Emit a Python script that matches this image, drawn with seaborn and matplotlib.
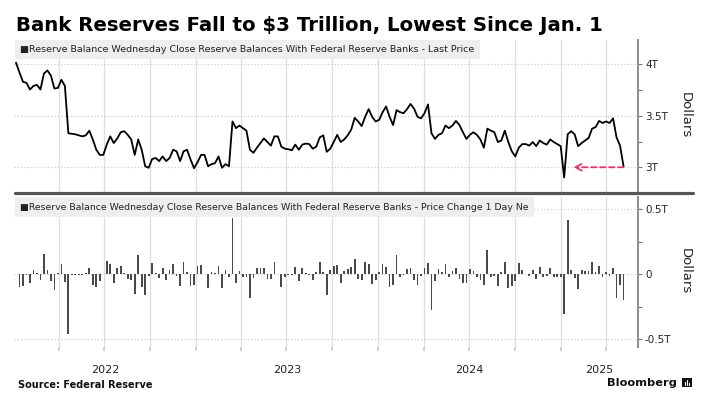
import numpy as np
import pandas as pd
import seaborn as sns
import matplotlib.pyplot as plt
import matplotlib.dates as mdates
from matplotlib.lines import Line2D
from matplotlib.patches import Rectangle

# Weekly reserve balances with Federal Reserve Banks, trillions of dollars (Wednesday close)
first_week = "2022-01-05"
reserves = [
    4.016, 3.92, 3.83, 3.82, 3.755, 3.79, 3.80, 3.755, 3.91, 3.94,
    3.89, 3.765, 3.77, 3.85, 3.79, 3.33, 3.325, 3.32, 3.31, 3.30,
    3.31, 3.355, 3.27, 3.17, 3.12, 3.12, 3.22, 3.30, 3.235, 3.28,
    3.34, 3.35, 3.315, 3.27, 3.12, 3.27, 3.17, 3.01, 2.995, 3.08,
    3.09, 3.06, 3.105, 3.06, 3.09,
    3.17, 3.155, 3.06, 3.155, 3.17, 3.075, 2.99, 3.05, 3.12, 3.12,
    3.01, 3.03, 3.04, 3.105, 2.995, 3.03, 3.01, 3.445, 3.38, 3.405,
    3.38, 3.355, 3.17, 3.14, 3.19, 3.235, 3.28, 3.245, 3.21, 3.30,
    3.30, 3.20, 3.18, 3.175, 3.165, 3.22, 3.17, 3.22, 3.23, 3.225,
    3.18, 3.20, 3.29, 3.31,
    3.15, 3.18, 3.245, 3.315, 3.245, 3.27, 3.31, 3.365, 3.48, 3.445,
    3.40, 3.49, 3.565, 3.49, 3.445, 3.46, 3.535, 3.59, 3.49, 3.41,
    3.555, 3.535, 3.525, 3.565, 3.615, 3.57, 3.49, 3.475, 3.525, 3.61,
    3.33, 3.275, 3.315, 3.33, 3.405, 3.38, 3.405, 3.45, 3.41, 3.34,
    3.275, 3.315, 3.34, 3.315, 3.27,
    3.19, 3.375, 3.355, 3.34, 3.245, 3.26, 3.355, 3.245, 3.155, 3.105,
    3.19, 3.225, 3.225, 3.21, 3.245, 3.205, 3.26, 3.235, 3.22, 3.27,
    3.245, 3.225, 3.205, 2.90, 3.32, 3.35, 3.32, 3.205, 3.235, 3.26,
    3.285, 3.375, 3.39, 3.45, 3.43, 3.445, 3.43, 3.475, 3.29, 3.21,
    3.01,
]

level_ticks = [3.0, 3.5, 4.0]
level_labels = ["3T", "3.5T", "4T"]
change_ticks = [-0.5, 0.0, 0.5]
change_labels = ["-0.5T", "0", "0.5T"]
years = ["2022", "2023", "2024", "2025"]

title = "Bank Reserves Fall to $3 Trillion, Lowest Since Jan. 1"
top_legend = "\u25a0Reserve Balance Wednesday Close Reserve Balances With Federal Reserve Banks - Last Price"
bot_legend = "\u25a0Reserve Balance Wednesday Close Reserve Balances With Federal Reserve Banks - Price Change 1 Day Ne"

# Build the frames
dates = pd.date_range(first_week, periods=len(reserves), freq="7D")
df = pd.DataFrame({"date": mdates.date2num(dates), "reserves": reserves})
chg = pd.DataFrame({"date": df["date"].iloc[1:].values, "change": np.diff(reserves)})

x_start = mdates.date2num(pd.Timestamp("2022-01-01"))
x_end = mdates.date2num(pd.Timestamp("2025-06-05"))
quarters = mdates.date2num(pd.date_range("2022-01-01", "2025-04-01", freq="QS"))
year_starts = [mdates.date2num(pd.Timestamp(y + "-01-01")) for y in years] + [x_end]
year_centers = [(a + b) / 2 for a, b in zip(year_starts[:-1], year_starts[1:])]
arrow_tip = mdates.date2num(pd.Timestamp("2025-01-26"))

sns.set_theme(style="white")
plt.rcParams['font.family'] = ['DejaVu Sans']

W, H = 719, 399
fig = plt.figure(figsize=(W / 100, H / 100), dpi=100)
ax_top = fig.add_axes([14 / W, 1 - 193 / H, 624 / W, 153 / H])
ax_bot = fig.add_axes([14 / W, 1 - 347 / H, 624 / W, 150 / H], sharex=ax_top)

# Quarter grid lines (faint verticals through both panels, none on the left edge)
for ax in (ax_top, ax_bot):
    for q in quarters[1:]:
        ax.axvline(q, color="#dedede", linewidth=0.9, zorder=0)

# Top panel: level line
sns.lineplot(data=df, x="date", y="reserves", ax=ax_top, color="black", linewidth=1.3)

# Bottom panel: weekly change bars
sns.barplot(data=chg, x="date", y="change", ax=ax_bot, native_scale=True,
            color="#4a4a4a", saturation=1, width=0.5, errorbar=None, linewidth=0)

ax_top.set_ylim(2.75, 4.236)
ax_bot.set_ylim(-0.562, 0.595)

for ax in (ax_top, ax_bot):
    ax.set_xlim(x_start, x_end)
    ax.set_xlabel("")
    ax.set_ylabel("")
    for side in ("top", "left", "bottom"):
        ax.spines[side].set_visible(False)
    ax.spines["right"].set_color("#8c8c8c")
    ax.spines["right"].set_linewidth(1.4)
    ax.yaxis.tick_right()
    ax.set_xticks(quarters[1:])
    ax.set_axisbelow(True)

ax_top.set_yticks(level_ticks)
ax_top.set_yticklabels(level_labels)
ax_top.set_yticks([3.25, 3.75], minor=True)
ax_top.tick_params(axis="x", which="both", length=0, labelbottom=False)

ax_bot.set_yticks(change_ticks)
ax_bot.set_yticklabels(change_labels)
ax_bot.set_yticks([-0.25, 0.25], minor=True)
ax_bot.set_xticklabels([])
ax_bot.set_xticks(year_centers, minor=True)
ax_bot.set_xticklabels(years, minor=True)
ax_bot.tick_params(axis="x", which="major", bottom=True, length=3, color="#cccccc")
ax_bot.tick_params(axis="x", which="minor", bottom=True, length=0, pad=13,
                   labelsize=8, labelcolor="#222222")

for ax in (ax_top, ax_bot):
    ax.xaxis.grid(False, which="both")
    ax.yaxis.grid(True, which="major", color="#c8c8c8", linewidth=0.8, linestyle=(0, (1, 2)))
    ax.tick_params(axis="y", which="both", right=True, left=False, length=3, width=0.8,
                   color="#777777", labelsize=7.5, pad=2, labelcolor="#222222")

# Red dashed arrow pointing back to the January low
ax_top.annotate("", xy=(arrow_tip, 3.0), xytext=(df["date"].iloc[-1], 3.0),
                arrowprops=dict(arrowstyle="->", color="#e8336b", lw=1.3,
                                linestyle=(0, (3, 2)), shrinkA=0, shrinkB=0))

# Legend bands
band = dict(boxstyle="square,pad=0.55", fc="#eeeeee", ec="none")
ax_top.text(0.0099, 0.966, top_legend, transform=ax_top.transAxes, fontsize=6.8,
            color="#222222", va="top", ha="left", bbox=band, zorder=5)
ax_bot.text(0.0099, 0.963, bot_legend, transform=ax_bot.transAxes, fontsize=6.75,
            color="#222222", va="top", ha="left", bbox=band, zorder=5)

# Axis titles on the right
fig.text(685 / W, 1 - 115 / H, "Dollars", rotation=270, fontsize=9.5, ha="center", va="center", color="#222222")
fig.text(685 / W, 1 - 271 / H, "Dollars", rotation=270, fontsize=9.5, ha="center", va="center", color="#222222")

# Thick separator between the panels
fig.add_artist(Line2D([15 / W, 693 / W], [1 - 193 / H] * 2, color="#555555", lw=2.3,
                      transform=fig.transFigure))

# Title, source and branding
fig.text(16 / W, 1 - 31 / H, title, fontsize=14.2, fontweight="bold", va="baseline", ha="left", color="black")
fig.text(18 / W, 1 - 388 / H, "Source: Federal Reserve", fontsize=7, fontweight="bold",
         va="baseline", ha="left", color="#111111")
fig.text(677 / W, 1 - 386.5 / H, "Bloomberg", fontsize=8.2, fontweight="bold",
         va="baseline", ha="right", color="#111111")
fig.add_artist(Rectangle((682 / W, 1 - 387 / H), 10 / W, 9 / H, fc="#111111", ec="none",
                         transform=fig.transFigure))
for bx, bh in [(685.0, 3), (687.0, 5), (689.0, 2)]:
    fig.add_artist(Line2D([bx / W] * 2, [1 - 384.5 / H, 1 - (384.5 - bh) / H], color="white",
                          lw=0.8, transform=fig.transFigure))

fig.savefig("out.png", dpi=100)
plt.close()
